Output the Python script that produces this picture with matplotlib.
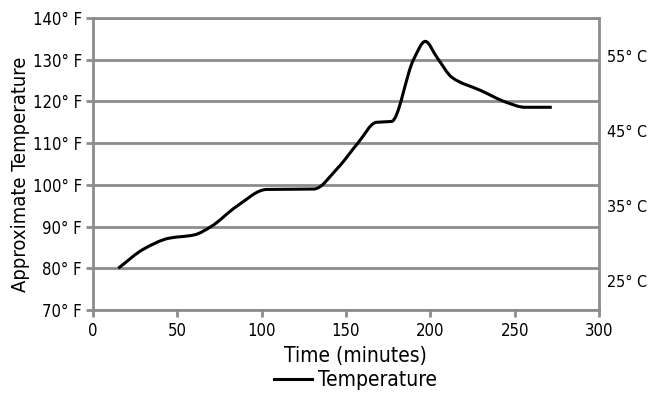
import numpy as np
import matplotlib
matplotlib.use('Agg')
import matplotlib.pyplot as plt
from matplotlib import font_manager
from matplotlib.path import Path
from matplotlib.patches import PathPatch
from matplotlib.lines import Line2D

# the chart uses a narrow sans; take a condensed face if one is installed
narrow = [f for f in font_manager.fontManager.ttflist
          if ('Narrow' in f.name or 'Condensed' in f.name or str(f.stretch) in ('condensed', 'semi-condensed', '75', '87'))
          and f.style == 'normal' and f.weight in (400, 'normal', 'regular')]
if narrow:
    fp = narrow[0]
    plt.rcParams['font.family'] = [fp.name, 'DejaVu Sans']
    plt.rcParams['font.stretch'] = fp.stretch
else:
    plt.rcParams['font.family'] = ['Liberation Sans', 'DejaVu Sans']

# data
minutes = [15, 30, 45, 60, 70, 85, 103, 131, 145, 157, 168, 177, 190, 197, 204, 213, 230, 245, 256, 272]
temp_f = [80, 84.6, 87.2, 88, 90, 94.8, 98.9, 99, 104, 110, 115, 115.2, 130, 134.4, 130.5, 125.7, 122.6, 119.8, 118.6, 118.6]

y_ticks_f = [70, 80, 90, 100, 110, 120, 130, 140]
x_ticks = [0, 50, 100, 150, 200, 250, 300]
celsius_ticks = [25, 35, 45, 55]

GRID = '#8c8c8c'


def smooth_path(xs, ys):
    # smoothed line: monotone cubic Hermite segments drawn as Bezier curves
    x = np.asarray(xs, float)
    y = np.asarray(ys, float)
    h = np.diff(x)
    d = np.diff(y) / h
    m = np.zeros_like(y)
    m[0], m[-1] = d[0], d[-1]
    for i in range(1, len(x) - 1):
        if d[i - 1] * d[i] <= 0:
            m[i] = 0
        else:
            w1 = 2 * h[i] + h[i - 1]
            w2 = h[i] + 2 * h[i - 1]
            m[i] = (w1 + w2) / (w1 / d[i - 1] + w2 / d[i])
    verts = [(x[0], y[0])]
    codes = [Path.MOVETO]
    for i in range(len(x) - 1):
        verts += [(x[i] + h[i] / 3, y[i] + m[i] * h[i] / 3),
                  (x[i + 1] - h[i] / 3, y[i + 1] - m[i + 1] * h[i] / 3),
                  (x[i + 1], y[i + 1])]
        codes += [Path.CURVE4] * 3
    return Path(verts, codes)


fig = plt.figure(figsize=(6.49, 4.03), dpi=100)
ax = fig.add_axes([0.1433, 0.2308, 0.7797, 0.7245])

ax.set_xlim(0, 300)
ax.set_ylim(70, 140)
ax.set_xticks(x_ticks)
ax.set_yticks(y_ticks_f)
ax.set_yticklabels([f'{v}° F' for v in y_ticks_f])
ax.tick_params(axis='both', colors=GRID, labelcolor='black', labelsize=12,
               length=5, width=2, direction='out')
ax.tick_params(axis='y', pad=3)
ax.grid(axis='y', color=GRID, linewidth=2)
ax.set_axisbelow(True)
for s in ax.spines.values():
    s.set_color(GRID)
    s.set_linewidth(2)

ax.add_patch(PathPatch(smooth_path(minutes, temp_f), facecolor='none',
                       edgecolor='black', linewidth=2.2, capstyle='butt', zorder=3))

ax.set_xlabel('Time (minutes)', fontsize=15)
ax.xaxis.set_label_coords(0.518, -0.125)
ax.set_ylabel('Approximate Temperature', fontsize=14.5)
ax.yaxis.set_label_coords(-0.125, 0.465)

# Celsius scale on the right
ax2 = ax.twinx()
ax2.set_ylim(ax.get_ylim())
ax2.set_yticks([c * 9 / 5 + 32 for c in celsius_ticks])
ax2.set_yticklabels([f'{c}° C' for c in celsius_ticks])
ax2.tick_params(axis='y', length=0, labelsize=11.5, pad=6)
for s in ax2.spines.values():
    s.set_visible(False)

handle = Line2D([], [], color='black', linewidth=2.2)
fig.legend([handle], ['Temperature'], loc='lower center', bbox_to_anchor=(0.548, -0.015),
           frameon=False, fontsize=15, handlelength=1.8, handletextpad=0.3)

fig.savefig('out.png', dpi=100)
